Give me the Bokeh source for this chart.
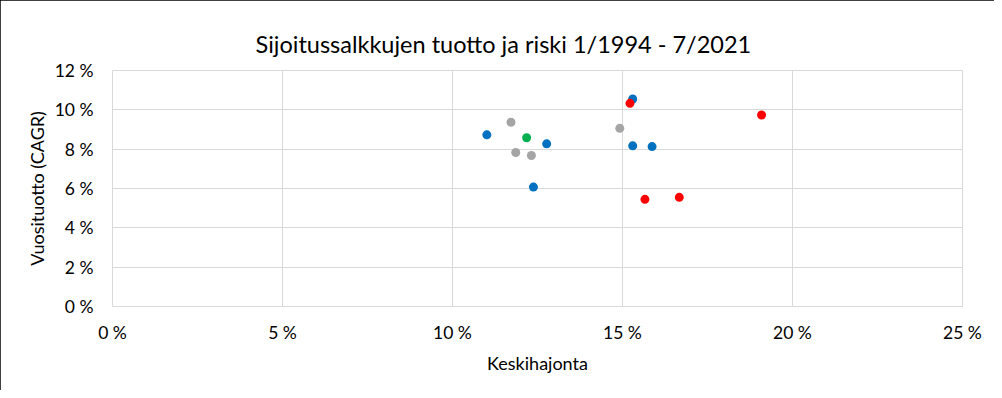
from bokeh.plotting import figure
from bokeh.models import FixedTicker, PrintfTickFormatter, Range1d
from bokeh.embed import file_html
from bokeh.resources import INLINE

# Data (percent units): risk = Keskihajonta, ret = Vuosituotto (CAGR)
blue_risk = [11.01, 12.77, 12.38, 15.30, 15.30, 15.87]
blue_ret = [8.73, 8.27, 6.07, 10.55, 8.17, 8.13]
gray_risk = [11.72, 11.86, 12.32, 14.92]
gray_ret = [9.37, 7.83, 7.68, 9.06]
green_risk = [12.18]
green_ret = [8.58]
red_risk = [15.22, 15.66, 16.67, 19.09]
red_ret = [10.33, 5.45, 5.55, 9.74]

x_ticks = [0, 5, 10, 15, 20, 25]
y_ticks = [0, 2, 4, 6, 8, 10, 12]
title_text = "Sijoitussalkkujen tuotto ja riski 1/1994 - 7/2021"

FONT = "Lato"

p = figure(width=994, height=390, output_backend="svg", toolbar_location=None,
           x_range=Range1d(0, 25), y_range=Range1d(0, 12),
           min_border_left=112, min_border_right=32, min_border_top=70,
           min_border_bottom=84,
           title=title_text)

p.title.align = "left"
p.title.vertical_align = "top"
p.title.text_font = FONT
p.title.text_font_size = "23.5px"
p.title.text_font_style = "normal"
p.title.text_color = "#000000"
p.title.offset = 143
p.title.standoff = 22

p.outline_line_color = "#D9D9D9"
p.outline_line_width = 1
p.background_fill_color = "white"
p.border_fill_color = "white"

for ax in (p.xaxis[0], p.yaxis[0]):
    ax.axis_line_color = None
    ax.major_tick_line_color = None
    ax.minor_tick_line_color = None
    ax.major_tick_out = 0
    ax.major_tick_in = 0
    ax.minor_tick_out = 0
    ax.major_label_text_font = FONT
    ax.major_label_text_font_size = "17.5px"
    ax.major_label_text_color = "#000000"
    ax.axis_label_text_font = FONT
    ax.axis_label_text_font_size = "18px"
    ax.axis_label_text_font_style = "normal"
    ax.axis_label_text_color = "#000000"
    ax.formatter = PrintfTickFormatter(format="%d %%")

p.xaxis[0].ticker = FixedTicker(ticks=x_ticks)
p.yaxis[0].ticker = FixedTicker(ticks=y_ticks)
p.xaxis[0].axis_label = "Keskihajonta"
p.yaxis[0].axis_label = "Vuosituotto (CAGR)"
p.xaxis[0].major_label_standoff = 15
p.yaxis[0].major_label_standoff = 19
p.xaxis[0].axis_label_standoff = 6
p.yaxis[0].axis_label_standoff = 4

p.xgrid.grid_line_color = "#D9D9D9"
p.ygrid.grid_line_color = "#D9D9D9"
p.xgrid.grid_line_width = 1
p.ygrid.grid_line_width = 1

S = 9
p.scatter(gray_risk, gray_ret, size=S, color="#A5A5A5", line_color=None)
p.scatter(blue_risk, blue_ret, size=S, color="#0070C0", line_color=None)
p.scatter(green_risk, green_ret, size=S, color="#00B050", line_color=None)
p.scatter(red_risk, red_ret, size=S, color="#FF0000", line_color=None)

p.styles = {"width": "994px", "height": "390px",
            "outline": "2px solid #000000", "outline-offset": "-2px"}

open("out.html", "w").write(file_html(p, INLINE))
